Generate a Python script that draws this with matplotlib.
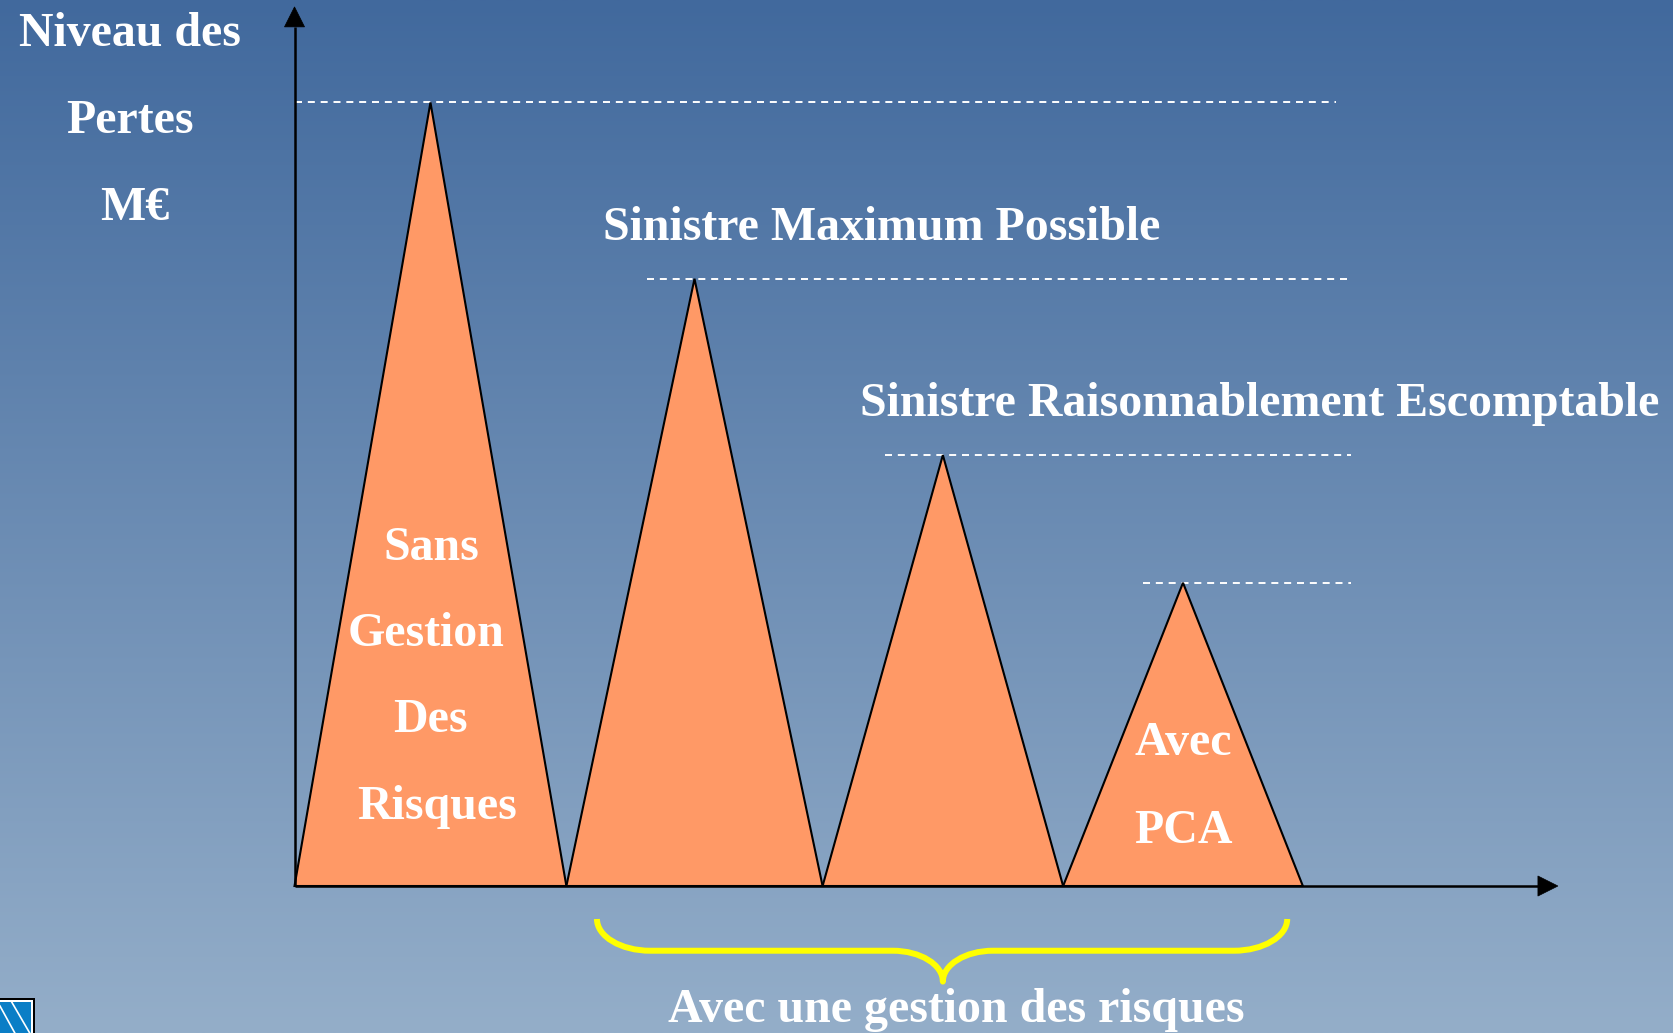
import numpy as np
import matplotlib
matplotlib.use("Agg")
import matplotlib.pyplot as plt
from matplotlib.path import Path
from matplotlib.patches import PathPatch, Rectangle, Polygon

# ---------------- data ----------------
scenario_labels = ["Sans Gestion Des Risques", "Gestion 1", "Gestion 2", "Avec PCA"]
base_edges = [0.0, 34.7, 67.4, 98.1, 128.7]          # start / end of each loss event on the x axis
peak_losses = [100.0, 77.5, 55.0, 38.7]              # loss level (peak) for each scenario
ref_line_starts = [0.0, 45.0, 75.4, 108.3]           # where each dashed reference line begins
ref_line_ends = [132.9, 134.9, 134.9, 134.9]         # where each dashed reference line ends

ylabel_lines = ["Niveau des", "Pertes", "M€"]
first_label_lines = ["Sans", "Gestion", "Des", "Risques"]
last_label_lines = ["Avec", "PCA"]
title_max = "Sinistre Maximum Possible"
title_reason = "Sinistre Raisonnablement Escomptable"
brace_text = "Avec une gestion des risques"

# ---------------- figure ----------------
W, H, DPI = 1673, 1033, 100
fig = plt.figure(figsize=(W / DPI, H / DPI), dpi=DPI)
ax = fig.add_axes([0, 0, 1, 1])
XL = (-37.59, 175.94)
YL = (-18.76, 113.08)
ax.set_xlim(*XL)
ax.set_ylim(*YL)
ax.axis("off")

# background gradient
top_col = np.array([0x41, 0x69, 0x9d]) / 255
bot_col = np.array([0x94, 0xae, 0xc9]) / 255
t = np.linspace(0, 1, 512)[:, None]
grad = top_col[None, :] * (1 - t) + bot_col[None, :] * t
grad = np.repeat(grad[:, None, :], 2, axis=1)
ax.imshow(grad, extent=[XL[0], XL[1], YL[0], YL[1]], aspect="auto",
          origin="upper", zorder=0, interpolation="bilinear")

# triangles
fill_col = "#ff9966"
for i, peak in enumerate(peak_losses):
    x0, x1 = base_edges[i], base_edges[i + 1]
    xm = (x0 + x1) / 2
    ax.fill([x0, xm, x1], [0, peak, 0], facecolor=fill_col, edgecolor="black",
            linewidth=1.5, joinstyle="miter", zorder=3)

# dashed reference lines
for peak, xs, xe in zip(peak_losses, ref_line_starts, ref_line_ends):
    ax.plot([xs, xe], [peak, peak], color="white", linewidth=1.4,
            dashes=(3.6, 3.0), zorder=2)

# axes with arrows
ax_x_end = 161.25
ax_y_end = 112.2
hl, hw = 2.55, 1.28
ax.plot([0, ax_x_end - hl], [0, 0], color="black", linewidth=1.8, zorder=4,
        solid_capstyle="butt")
ax.plot([0, 0], [0, ax_y_end - hl], color="black", linewidth=1.8, zorder=4,
        solid_capstyle="butt")
ax.add_patch(Polygon([[ax_x_end - hl, hw], [ax_x_end, 0], [ax_x_end - hl, -hw]],
                     closed=True, facecolor="black", edgecolor="black", lw=0.5, zorder=4))
ax.add_patch(Polygon([[-hw, ax_y_end - hl], [0, ax_y_end], [hw, ax_y_end - hl]],
                     closed=True, facecolor="black", edgecolor="black", lw=0.5, zorder=4))

# text
font = dict(family="Liberation Serif", weight="bold", color="white", size=34.5)
ylab_x = [-21.0, -21.0, -20.4]
ylab_y = [107.2, 96.1, 85.0]
for s, x, y in zip(ylabel_lines, ylab_x, ylab_y):
    ax.text(x, y, s, ha="center", va="baseline", zorder=5, **font)

ax.text(75.0, 82.45, title_max, ha="center", va="baseline", zorder=5, **font)
ax.text(123.2, 60.0, title_reason, ha="center", va="baseline", zorder=5, **font)

first_x = [17.4, 16.8, 17.4, 18.2]
first_y = [41.6, 30.6, 19.6, 8.6]
for s, x, y in zip(first_label_lines, first_x, first_y):
    ax.text(x, y, s, ha="center", va="baseline", zorder=5, **font)

last_xc = (base_edges[3] + base_edges[4]) / 2
last_y = [16.7, 5.5]
for s, y in zip(last_label_lines, last_y):
    ax.text(last_xc, y, s, ha="center", va="baseline", zorder=5, **font)

ax.text(84.5, -17.36, brace_text, ha="center", va="baseline", zorder=5, **font)

# yellow brace under the "with risk management" scenarios
bx0, bx1 = 38.6, 126.7
bxc = (base_edges[2] + base_edges[3]) / 2
ytop, yline, ytip = -4.21, -8.26, -12.2
r_end, r_mid = 6.8, 6.4
k = 0.55
verts = [
    (bx0, ytop),
    (bx0, ytop + (yline - ytop) * k), (bx0 + r_end * (1 - k), yline), (bx0 + r_end, yline),
    (bxc - r_mid, yline),
    (bxc - r_mid * (1 - k), yline), (bxc, yline + (ytip - yline) * 0.45), (bxc, ytip),
    (bxc, yline + (ytip - yline) * 0.45), (bxc + r_mid * (1 - k), yline), (bxc + r_mid, yline),
    (bx1 - r_end, yline),
    (bx1 - r_end * (1 - k), yline), (bx1, ytop + (yline - ytop) * k), (bx1, ytop),
]
codes = [Path.MOVETO,
         Path.CURVE4, Path.CURVE4, Path.CURVE4,
         Path.LINETO,
         Path.CURVE4, Path.CURVE4, Path.CURVE4,
         Path.CURVE4, Path.CURVE4, Path.CURVE4,
         Path.LINETO,
         Path.CURVE4, Path.CURVE4, Path.CURVE4]
ax.add_patch(PathPatch(Path(verts, codes), facecolor="none", edgecolor="#ffff00",
                       linewidth=4.3, capstyle="butt", joinstyle="round", zorder=5))

# small logo in the bottom-left corner
ax.add_patch(Rectangle((-40, -20), 6.9, 5.7, facecolor="black", edgecolor="none", zorder=6))
ax.add_patch(Rectangle((-40, -20), 6.65, 5.45, facecolor="white", edgecolor="none", zorder=6))
ax.add_patch(Rectangle((-40, -20), 6.4, 5.2, facecolor="#0a7ec6", edgecolor="none", zorder=6))
ax.plot([-37.6, -35.7], [-15.3, -18.76], color="white", lw=1.2, zorder=7)
ax.plot([-36.1, -33.8], [-14.8, -18.76], color="white", lw=1.2, zorder=7)

fig.savefig("out.png", dpi=DPI)
